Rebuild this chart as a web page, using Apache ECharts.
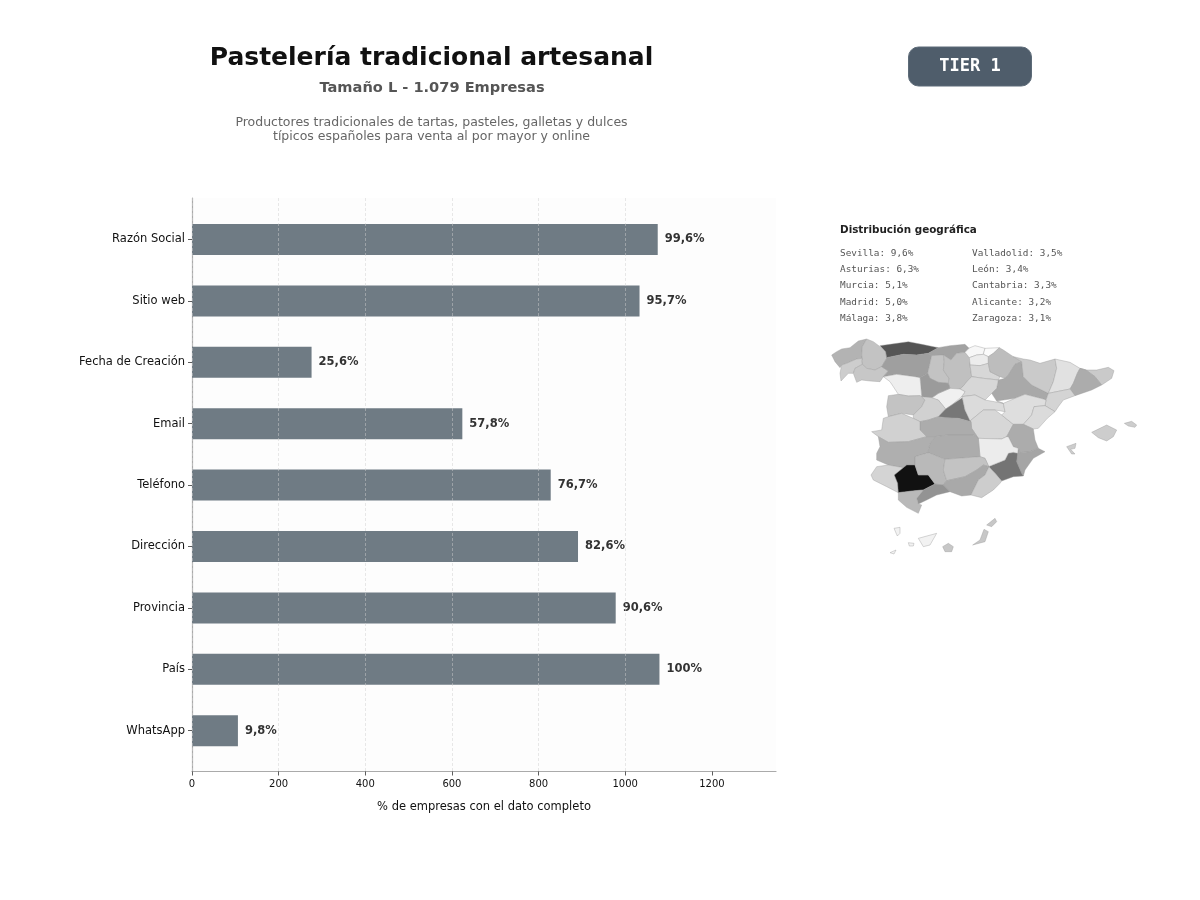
<!DOCTYPE html>
<html><head><meta charset="utf-8">
<script src="https://cdn.jsdelivr.net/npm/echarts@6/dist/echarts.min.js"></script>
<style>html,body{margin:0;background:#fff}#c{width:1200px;height:900px}</style></head>
<body><div id="c"></div>
<script>
const categories = ['Razón Social','Sitio web','Fecha de Creación','Email','Teléfono','Dirección','Provincia','País','WhatsApp'];
const companyCounts = [1075,1033,276,624,828,891,978,1079,106];
const percentLabels = ['99,6%','95,7%','25,6%','57,8%','76,7%','82,6%','90,6%','100%','9,8%'];
const xTicks = [0,200,400,600,800,1000,1200];
const geoColumnA = ['Sevilla: 9,6%','Asturias: 6,3%','Murcia: 5,1%','Madrid: 5,0%','Málaga: 3,8%'];
const geoColumnB = ['Valladolid: 3,5%','León: 3,4%','Cantabria: 3,3%','Alicante: 3,2%','Zaragoza: 3,1%'];
const descLines = ['Productores tradicionales de tartas, pasteles, galletas y dulces','típicos españoles para venta al por mayor y online'];

const provinceValues = {
 'A Coruña':2.8,'Lugo':2.3,'Pontevedra':2.0,'Ourense':2.2,'Asturias':6.3,'Cantabria':3.3,'León':3.4,'Palencia':2.3,'Burgos':2.4,
 'Vizcaya':0.4,'Gipuzkoa':0.2,'Álava':1.0,'La Rioja':1.7,'Navarra':2.5,'Zaragoza':3.1,'Huesca':2.1,'Lleida':1.4,'Girona':2.1,
 'Barcelona':3.0,'Tarragona':1.8,'Soria':1.7,'Segovia':0.8,'Valladolid':3.5,'Zamora':0.9,'Salamanca':2.3,'Ávila':1.9,'Madrid':5.0,
 'Guadalajara':1.6,'Cuenca':1.7,'Teruel':1.5,'Castellón':1.6,'Valencia':3.0,'Alicante':3.2,'Murcia':5.1,'Albacete':1.0,'Toledo':3.0,
 'Ciudad Real':3.0,'Cáceres':1.9,'Badajoz':2.9,'Huelva':1.8,'Sevilla':9.6,'Córdoba':2.6,'Jaén':2.3,'Granada':3.1,'Almería':2.0,
 'Málaga':3.8,'Cádiz':2.6,'Baleares':2.0,'Las Palmas':2.2,'Tenerife':0.7
};
/* Province outlines */
const provinceShapes = {
 'A Coruña':[[[35,75],[50,65],[65,57],[90,53],[115,33],[140,27],[127,50],[125,75],[127,85],[110,87],[80,100],[65,105],[60,113],[45,95],[35,75]]],
 'Lugo':[[[140,27],[160,35],[180,50],[197,65],[200,85],[185,110],[165,120],[140,115],[127,103],[125,93],[127,85],[125,75],[127,50],[140,27]]],
 'Pontevedra':[[[65,105],[80,100],[110,87],[127,85],[125,93],[127,103],[105,115],[100,130],[85,130],[63,153],[60,130],[65,105]]],
 'Ourense':[[[105,115],[127,103],[140,115],[165,120],[185,110],[205,123],[190,140],[180,155],[150,153],[125,150],[110,157],[100,130],[105,115]]],
 'Asturias':[[[180,47],[210,43],[265,35],[305,43],[355,53],[325,70],[290,75],[250,73],[200,83],[197,65],[180,47]]],
 'Cantabria':[[[355,53],[390,47],[435,43],[447,55],[435,67],[410,70],[393,90],[370,75],[335,77],[325,70],[355,53]]],
 'León':[[[200,83],[250,73],[290,75],[325,70],[335,77],[330,100],[323,130],[300,143],[285,140],[230,133],[190,140],[205,123],[185,110],[200,85]]],
 'Palencia':[[[335,77],[370,75],[373,95],[370,120],[387,145],[385,160],[355,157],[330,145],[323,130],[330,100],[335,77]]],
 'Burgos':[[[370,75],[393,90],[410,70],[435,67],[448,83],[450,100],[450,105],[455,140],[445,150],[428,170],[420,177],[390,175],[385,160],[387,145],[370,120],[373,95],[370,75]]],
 'Vizcaya':[[[445,55],[465,47],[495,55],[490,73],[470,75],[448,83],[435,67],[447,55]]],
 'Gipuzkoa':[[[495,55],[538,53],[520,70],[505,80],[490,73],[495,55]]],
 'Álava':[[[448,83],[470,75],[490,73],[505,80],[505,100],[480,107],[450,105],[450,100],[448,83]]],
 'La Rioja':[[[450,105],[480,107],[505,100],[510,125],[540,140],[535,150],[490,145],[455,140],[450,105]]],
 'Navarra':[[[538,53],[550,60],[580,80],[605,95],[585,103],[565,135],[555,145],[540,140],[510,125],[505,100],[505,80],[520,70],[538,53]]],
 'Zaragoza':[[[565,135],[585,103],[605,95],[610,140],[635,165],[685,190],[678,210],[670,207],[615,193],[585,205],[530,213],[515,190],[530,175],[535,150],[555,145],[565,135]]],
 'Huesca':[[[580,80],[610,87],[630,90],[660,100],[705,87],[710,115],[700,155],[685,190],[635,165],[610,140],[605,95],[580,80]]],
 'Lleida':[[[705,87],[750,97],[780,115],[772,130],[760,160],[750,177],[685,190],[700,155],[710,115],[705,87]]],
 'Girona':[[[780,115],[798,120],[830,120],[865,112],[882,122],[875,145],[845,165],[825,140],[798,120]]],
 'Barcelona':[[[780,115],[798,120],[825,140],[845,165],[815,180],[765,197],[750,177],[760,160],[772,130],[780,115]]],
 'Tarragona':[[[685,190],[750,177],[765,197],[730,210],[715,230],[705,245],[675,227],[678,210],[685,190]]],
 'Soria':[[[428,170],[445,150],[455,140],[490,145],[535,150],[530,175],[515,190],[495,210],[465,195],[425,200],[435,185],[420,177],[428,170]]],
 'Segovia':[[[355,190],[390,175],[420,177],[435,185],[425,200],[427,203],[395,225],[377,237],[355,210],[335,205],[335,203],[355,190]]],
 'Valladolid':[[[300,143],[323,130],[330,145],[355,157],[385,160],[390,175],[355,190],[335,203],[305,200],[303,175],[300,143]]],
 'Zamora':[[[190,140],[230,133],[285,140],[300,143],[303,175],[305,200],[300,197],[265,198],[235,193],[220,170],[210,155],[190,140]]],
 'Salamanca':[[[205,197],[235,193],[265,198],[300,197],[315,210],[305,230],[280,255],[245,250],[205,260],[200,230],[205,197]]],
 'Ávila':[[[315,210],[305,200],[335,203],[335,205],[355,210],[377,237],[355,260],[325,270],[300,275],[280,265],[280,255],[305,230],[315,210]]],
 'Madrid':[[[377,237],[395,225],[427,203],[435,240],[453,275],[415,265],[375,263],[355,260],[377,237]]],
 'Guadalajara':[[[425,200],[465,195],[495,210],[550,220],[555,245],[525,240],[490,240],[450,273],[435,240],[427,203],[425,200]]],
 'Cuenca':[[[450,273],[490,240],[525,240],[545,255],[580,283],[560,320],[545,327],[475,325],[455,295],[453,275],[450,273]]],
 'Teruel':[[[530,213],[550,220],[585,205],[615,193],[670,207],[678,210],[675,227],[642,230],[635,255],[610,283],[580,283],[545,255],[555,245],[550,220]]],
 'Castellón':[[[642,230],[675,227],[705,245],[682,265],[655,295],[640,297],[610,283],[635,255],[642,230]]],
 'Valencia':[[[580,283],[610,283],[640,297],[645,330],[655,355],[630,365],[600,368],[595,355],[580,350],[565,320],[560,320],[580,283]]],
 'Alicante':[[[655,355],[675,365],[640,385],[615,420],[610,438],[605,430],[590,395],[593,370],[595,355],[600,368],[630,365],[655,355]]],
 'Murcia':[[[580,367],[593,370],[590,395],[605,430],[610,438],[580,440],[545,453],[525,430],[505,410],[555,390],[565,370],[580,367]]],
 'Albacete':[[[475,325],[545,327],[560,320],[565,320],[580,350],[595,355],[593,370],[580,367],[565,370],[555,390],[505,410],[495,385],[480,380],[475,325]]],
 'Toledo':[[[300,275],[325,270],[355,260],[375,263],[415,265],[453,275],[455,295],[475,325],[460,315],[385,315],[345,320],[320,320],[300,300],[300,275]]],
 'Ciudad Real':[[[345,320],[385,315],[460,315],[475,325],[480,380],[375,388],[325,368],[325,360],[330,340],[345,320]]],
 'Cáceres':[[[190,265],[205,260],[245,250],[280,265],[300,275],[300,300],[320,320],[265,335],[205,337],[175,320],[155,305],[185,300],[190,265]]],
 'Badajoz':[[[170,370],[180,350],[175,320],[205,337],[265,335],[320,320],[345,320],[330,340],[325,360],[325,368],[285,380],[285,405],[260,405],[250,413],[205,405],[170,390],[170,370]]],
 'Huelva':[[[170,410],[205,405],[250,413],[223,435],[233,460],[235,488],[200,470],[160,450],[153,435],[170,410]]],
 'Sevilla':[[[223,435],[250,413],[260,405],[285,405],[295,435],[325,435],[345,462],[310,480],[285,482],[235,488],[233,460],[223,435]]],
 'Córdoba':[[[285,380],[325,368],[375,388],[370,420],[380,452],[370,465],[345,462],[325,435],[295,435],[285,405],[285,380]]],
 'Jaén':[[[375,388],[480,380],[495,385],[507,410],[490,405],[470,420],[435,440],[380,452],[370,420],[375,388]]],
 'Granada':[[[370,465],[380,452],[435,440],[470,420],[490,405],[507,410],[495,435],[475,450],[453,495],[425,498],[390,485],[370,465]]],
 'Almería':[[[507,410],[525,430],[545,453],[540,460],[520,480],[485,503],[453,495],[475,450],[495,435],[507,410]]],
 'Málaga':[[[310,480],[345,462],[370,465],[390,485],[350,495],[320,510],[295,522],[290,505],[310,480]]],
 'Cádiz':[[[235,488],[285,482],[310,480],[290,505],[295,522],[305,525],[295,550],[260,532],[235,510],[235,488]]],
 'Baleares':[[[[815,307],[860,285],[890,300],[880,320],[860,333],[835,323],[815,307]]],[[[913,280],[935,274],[950,285],[945,292],[925,288],[913,280]]],[[[740,350],[768,340],[765,355],[752,358],[765,372],[755,372],[740,350]]]],
 'Las Palmas':[[[[368,650],[385,640],[400,650],[395,665],[375,665],[368,650]]],[[[458,645],[480,630],[492,598],[505,605],[495,635],[458,645]]],[[[500,585],[525,565],[530,575],[515,590],[500,585]]]],
 'Tenerife':[[[[222,595],[240,592],[240,610],[232,618],[222,595]]],[[[265,638],[282,640],[280,648],[268,648],[265,638]]],[[[295,625],[350,610],[330,645],[310,650],[295,625]]],[[[210,668],[228,660],[222,672],[210,668]]]]
};
const multiShapes = ['Baleares','Las Palmas','Tenerife'];
const spainGeo = { type:'FeatureCollection', features:Object.keys(provinceShapes).map(n=>({
  type:'Feature', properties:{name:n},
  geometry:{ type: multiShapes.includes(n)?'MultiPolygon':'Polygon', coordinates:provinceShapes[n] }
}))};
echarts.registerMap('spain', spainGeo);

const F='"DejaVu Sans"', M='"DejaVu Sans Mono"';
const chart = echarts.init(document.getElementById('c'));
const txt=(x,y,t,size,fill,align,weight,fam)=>({type:'text',x,y,silent:true,style:{text:t,x:0,y:0,font:`${weight||'normal'} ${size}px ${fam||F}`,fill,textAlign:align||'left',textVerticalAlign:'middle'}});
const graphics=[
 txt(431.5,58,'Pastelería tradicional artesanal',25,'#111111','center','bold'),
 txt(432,88,'Tamaño L - 1.079 Empresas',14.6,'#555555','center','bold'),
 ...descLines.map((t,i)=>txt(431.5,122.5+i*14.6,t,12.5,'#666666','center')),
 {type:'rect',x:908.5,y:47,shape:{x:0,y:0,width:123,height:39,r:10},style:{fill:'#4f5d6b',stroke:'#5d6b78',lineWidth:1},silent:true},
 txt(970,67,'TIER 1',17,'#ffffff','center','bold',M),
 txt(840,230.5,'Distribución geográfica',10.4,'#222222','left','bold'),
 ...geoColumnA.map((t,i)=>txt(840,253.5+i*16.2,t,9.4,'#555555','left','normal',M)),
 ...geoColumnB.map((t,i)=>txt(972,253.5+i*16.2,t,9.4,'#555555','left','normal',M))
];
const axisColor='#aaaaaa';
chart.setOption({
 animation:false, backgroundColor:'#ffffff',
 grid:[
  {left:192,width:584,top:198,height:573.5,show:true,backgroundColor:'#fdfdfd',borderWidth:0,z:0},
  {left:192,width:584,top:208.8,height:552.6}
 ],
 xAxis:[
  {gridIndex:0,type:'value',min:0,max:1348,interval:200,z:5,
   axisLine:{show:true,lineStyle:{color:axisColor,width:1.2}},
   axisTick:{show:true,length:4,customValues:xTicks,lineStyle:{color:'#333',width:.8}},
   axisLabel:{color:'#111',fontFamily:F,fontSize:10,margin:8,customValues:xTicks,formatter:v=>String(v)},
   splitLine:{show:true,showMaxLine:false,lineStyle:{color:'#cfcfcf',type:[3,2],width:.8,opacity:.6}},
   name:'% de empresas con el dato completo',nameLocation:'middle',nameGap:30,
   nameTextStyle:{color:'#111',fontFamily:F,fontSize:11.5}},
  {gridIndex:1,type:'value',min:0,max:1348,show:false}
 ],
 yAxis:[
  {gridIndex:0,type:'value',min:0,max:1,show:true,axisLine:{show:true,onZero:false,lineStyle:{color:axisColor,width:1.2}},axisTick:{show:false},axisLabel:{show:false},splitLine:{show:false}},
  {gridIndex:1,type:'category',inverse:true,data:categories,
   axisLine:{show:false},axisTick:{show:true,alignWithLabel:true,length:4,lineStyle:{color:'#333',width:.8}},
   axisLabel:{color:'#111',fontFamily:F,fontSize:11.5,margin:7,padding:[4,0,0,0]}}
 ],
 visualMap:{show:false,seriesIndex:1,min:0,max:9.6,
  inRange:{color:['#ffffff','#e8e8e8','#c0c0c0','#989898','#7c7c7c','#5c5c5c','#404040','#282828','#111111']}},
 series:[
  {type:'bar',xAxisIndex:1,yAxisIndex:1,data:companyCounts,barWidth:31,z:2,
   itemStyle:{color:'#6f7b84'},
   label:{show:true,position:'right',distance:7,fontFamily:F,fontSize:11.5,fontWeight:'bold',color:'#333333',
     formatter:p=>percentLabels[p.dataIndex]}},
  {type:'map',map:'spain',roam:false,left:820,top:330,width:330,height:240,
   projection:{project:p=>p,unproject:p=>p},
   boundingCoords:[[0,0],[990,720]],
   label:{show:false},emphasis:{disabled:true},selectedMode:false,
   itemStyle:{borderColor:'#999999',borderWidth:.4},
   data:Object.keys(provinceValues).map(n=>({name:n,value:provinceValues[n]}))}
 ],
 graphic:graphics
});
</script></body></html>
